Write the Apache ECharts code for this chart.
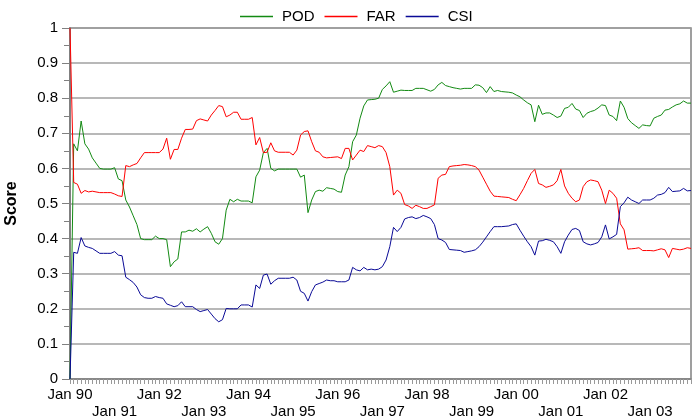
<!DOCTYPE html>
<html>
<head>
<meta charset="utf-8">
<script src="https://cdn.jsdelivr.net/npm/echarts@6/dist/echarts.min.js"></script>
<style>
  html, body { margin: 0; padding: 0; background: #fff; }
  #chart { width: 694px; height: 419px; }
</style>
</head>
<body>
<div id="chart"></div>
<script>
// monthly scores, Jan 90 .. Dec 03
var years = ['90', '91', '92', '93', '94', '95', '96', '97', '98', '99', '00', '01', '02', '03'];
var months = ['Jan', 'Feb', 'Mar', 'Apr', 'May', 'Jun', 'Jul', 'Aug', 'Sep', 'Oct', 'Nov', 'Dec'];

var pod = [
  0, 0.67, 0.65, 0.735, 0.67, 0.655, 0.63, 0.615, 0.60, 0.598, 0.598, 0.598,
  0.602, 0.57, 0.565, 0.51, 0.49, 0.465, 0.44, 0.40, 0.397, 0.397, 0.397, 0.407,
  0.40, 0.40, 0.397, 0.32, 0.334, 0.342, 0.419, 0.419, 0.424, 0.421, 0.428, 0.419,
  0.427, 0.434, 0.415, 0.391, 0.384, 0.40, 0.481, 0.512, 0.505, 0.512, 0.507, 0.507,
  0.507, 0.502, 0.576, 0.595, 0.645, 0.657, 0.60, 0.593, 0.598, 0.598, 0.598, 0.598,
  0.598, 0.598, 0.575, 0.581, 0.474, 0.51, 0.534, 0.538, 0.535, 0.545, 0.543, 0.541,
  0.534, 0.532, 0.581, 0.605, 0.676, 0.695, 0.743, 0.778, 0.795, 0.796, 0.797, 0.80,
  0.825, 0.835, 0.847, 0.817, 0.82, 0.823, 0.822, 0.822, 0.822, 0.828, 0.828, 0.828,
  0.824, 0.82, 0.825, 0.838, 0.845, 0.836, 0.833, 0.83, 0.828, 0.826, 0.828, 0.828,
  0.828, 0.838, 0.837, 0.83, 0.816, 0.833, 0.819, 0.822, 0.819, 0.818, 0.817, 0.815,
  0.809, 0.804, 0.795, 0.787, 0.781, 0.733, 0.78, 0.754, 0.758, 0.758, 0.752, 0.745,
  0.749, 0.771, 0.774, 0.785, 0.769, 0.765, 0.745, 0.757, 0.762, 0.765, 0.772, 0.781,
  0.779, 0.752, 0.748, 0.736, 0.792, 0.774, 0.742, 0.73, 0.722, 0.714, 0.724, 0.722,
  0.721, 0.743, 0.748, 0.752, 0.766, 0.768, 0.775, 0.781, 0.784, 0.792, 0.786, 0.786
];

var far = [
  1.0, 0.56, 0.555, 0.529, 0.537, 0.533, 0.535, 0.533, 0.531, 0.531, 0.531, 0.531,
  0.527, 0.522, 0.52, 0.608, 0.605, 0.61, 0.614, 0.63, 0.645, 0.645, 0.645, 0.645,
  0.645, 0.655, 0.686, 0.626, 0.654, 0.654, 0.686, 0.711, 0.711, 0.712, 0.736, 0.741,
  0.738, 0.735, 0.752, 0.765, 0.779, 0.776, 0.747, 0.752, 0.76, 0.76, 0.74, 0.74,
  0.74, 0.745, 0.667, 0.688, 0.645, 0.646, 0.673, 0.65, 0.646, 0.646, 0.646, 0.646,
  0.638, 0.652, 0.695, 0.705, 0.707, 0.676, 0.65, 0.646, 0.633, 0.63, 0.631, 0.632,
  0.633, 0.628, 0.657, 0.657, 0.624, 0.638, 0.652, 0.648, 0.665, 0.662, 0.659, 0.665,
  0.662, 0.645, 0.605, 0.524, 0.538, 0.529, 0.497, 0.493, 0.486, 0.495, 0.491, 0.486,
  0.486, 0.491, 0.496, 0.572, 0.581, 0.583, 0.605, 0.607, 0.608, 0.609, 0.611, 0.61,
  0.608, 0.605, 0.595, 0.575, 0.555, 0.535, 0.521, 0.52, 0.519, 0.518, 0.517, 0.512,
  0.508, 0.525, 0.543, 0.565, 0.586, 0.597, 0.557, 0.553, 0.546, 0.549, 0.553, 0.565,
  0.597, 0.55, 0.529, 0.515, 0.505, 0.51, 0.548, 0.562, 0.567, 0.565, 0.562, 0.538,
  0.50, 0.538, 0.529, 0.515, 0.442, 0.425, 0.37, 0.371, 0.372, 0.374, 0.366, 0.366,
  0.366, 0.365, 0.368, 0.371, 0.368, 0.346, 0.372, 0.37, 0.368, 0.37, 0.374, 0.372
];

var csi = [
  0, 0.361, 0.358, 0.403, 0.379, 0.375, 0.372, 0.365, 0.358, 0.358, 0.358, 0.358,
  0.363, 0.353, 0.351, 0.29, 0.283, 0.275, 0.262, 0.24, 0.232, 0.23, 0.23, 0.235,
  0.232, 0.23, 0.214, 0.21, 0.206, 0.209, 0.22, 0.206, 0.206, 0.206, 0.198, 0.192,
  0.195, 0.198, 0.185, 0.172, 0.163, 0.169, 0.201, 0.2, 0.2, 0.2, 0.211, 0.211,
  0.211, 0.205, 0.268, 0.258, 0.296, 0.299, 0.27, 0.28, 0.287, 0.287, 0.287, 0.287,
  0.29, 0.282, 0.25, 0.244, 0.222, 0.249, 0.268, 0.272, 0.276, 0.282, 0.28, 0.28,
  0.277, 0.277, 0.277, 0.282, 0.318, 0.311, 0.308, 0.318, 0.311, 0.313, 0.311, 0.313,
  0.32, 0.339, 0.377, 0.432, 0.42, 0.432, 0.456, 0.46, 0.462, 0.457, 0.46, 0.466,
  0.462, 0.457, 0.44, 0.40, 0.396, 0.389, 0.369, 0.368, 0.367, 0.366, 0.361, 0.363,
  0.365, 0.368, 0.377, 0.39, 0.405, 0.42, 0.434, 0.434, 0.434, 0.435, 0.436, 0.44,
  0.442, 0.424, 0.407, 0.391, 0.377, 0.353, 0.393, 0.394, 0.398, 0.395, 0.391, 0.377,
  0.358, 0.391, 0.41, 0.426, 0.429, 0.423, 0.391, 0.385, 0.382, 0.385, 0.389, 0.405,
  0.439, 0.399, 0.405, 0.412, 0.491, 0.502, 0.518, 0.51, 0.505, 0.50, 0.51, 0.51,
  0.51, 0.515, 0.524, 0.526, 0.531, 0.546, 0.534, 0.535, 0.536, 0.543, 0.536, 0.537
];

var categories = [];
years.forEach(function (y) {
  months.forEach(function (m) { categories.push(m + ' ' + y); });
});

var font = "'Liberation Sans', Arial, sans-serif";
var labelText = { fontSize: 15, color: '#000', fontFamily: font };
var chart = echarts.init(document.getElementById('chart'));

// January labels alternate between two rows: even years on the upper row, odd years below
function janLabels(odd, margin) {
  return Object.assign({
    interval: function (i) { return i % 12 === 0 && ((i / 12) % 2 === 1) === odd; },
    margin: margin
  }, labelText);
}

chart.setOption({
  animation: false,
  backgroundColor: '#fff',
  textStyle: { fontFamily: font },
  legend: {
    top: 4,
    left: 235,
    itemWidth: 33,
    itemHeight: 1.5,
    itemGap: 10,
    icon: 'rect',
    textStyle: Object.assign({ padding: [0, 0, 0, 4] }, labelText),
    data: ['POD', 'FAR', 'CSI']
  },
  grid: {
    left: 70, right: 3, top: 28, bottom: 40,
    outerBoundsMode: 'none',
    containLabel: false,
    show: true, borderColor: '#808080', borderWidth: 1.5
  },
  xAxis: [{
    type: 'category',
    boundaryGap: false,
    data: categories,
    axisLine: { lineStyle: { color: '#808080', width: 1.5 } },
    axisTick: { interval: 0, length: 5, lineStyle: { color: '#999' } },
    axisLabel: janLabels(false, 8),
    splitLine: { show: false }
  }, {
    type: 'category',
    position: 'bottom',
    boundaryGap: false,
    data: categories,
    axisLine: { show: false },
    axisTick: { show: false },
    axisLabel: janLabels(true, 25),
    splitLine: { show: false }
  }],
  yAxis: {
    type: 'value',
    min: 0, max: 1, interval: 0.1,
    name: 'Score',
    nameLocation: 'middle',
    nameGap: 50,
    nameTextStyle: { fontSize: 16, fontWeight: 'bold', color: '#000', fontFamily: font },
    axisLine: { show: true, lineStyle: { color: '#808080', width: 2 } },
    axisTick: { show: true, length: 8, lineStyle: { color: '#808080' } },
    minorTick: { show: true, splitNumber: 2, length: 6, lineStyle: { color: '#808080' } },
    splitLine: { lineStyle: { color: '#a0a0a0', width: 1.5 } },
    axisLabel: Object.assign({ margin: 12 }, labelText)
  },
  series: [
    { name: 'POD', type: 'line', data: pod, symbol: 'none', color: '#138a13', lineStyle: { width: 1 } },
    { name: 'FAR', type: 'line', data: far, symbol: 'none', color: '#ff0000', lineStyle: { width: 1 } },
    { name: 'CSI', type: 'line', data: csi, symbol: 'none', color: '#0a0a96', lineStyle: { width: 1 } }
  ]
});
</script>
</body>
</html>
